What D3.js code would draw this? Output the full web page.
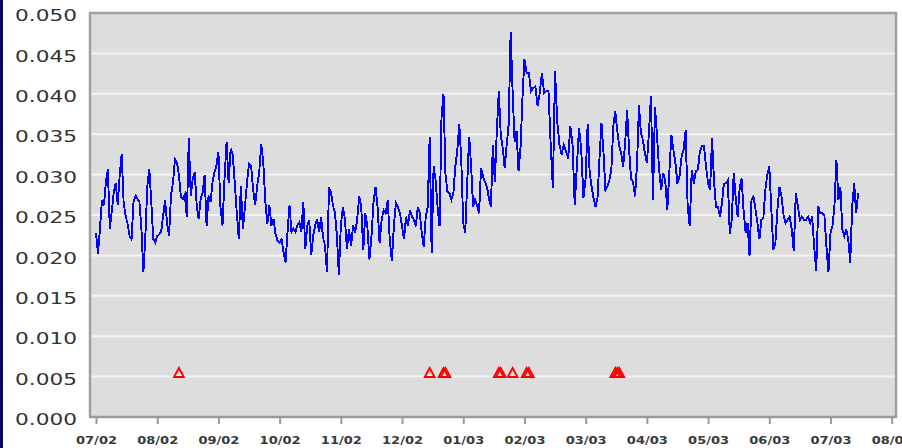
<!DOCTYPE html>
<html><head><meta charset="utf-8">
<script src="https://cdn.jsdelivr.net/npm/d3@7"></script>
<style>html,body{margin:0;padding:0;background:#fff;overflow:hidden}</style>
</head><body>
<svg id="chart" width="902" height="448"></svg>
<script>
// ---- data ----
const monthLabels = ["07/02","08/02","09/02","10/02","11/02","12/02","01/03","02/03","03/03","04/03","05/03","06/03","07/03","08/03"];
const yTickValues = [0, 0.005, 0.010, 0.015, 0.020, 0.025, 0.030, 0.035, 0.040, 0.045, 0.050];

// daily values, one array per month (first day of each array = 1st of month)
const jul2002 = [0.0228,0.0202,0.0233,0.0268,0.0262,0.0290,0.0307,0.0233,0.0255,0.0278,0.0290,0.0262,0.0299,0.0326,0.0265,0.0249,0.0239,0.0224,0.0220,0.0266,0.0274,0.0270,0.0266,0.0233,0.0179,0.0224,0.0286,0.0307,0.0266,0.0220,0.0216];
const aug2002 = [0.0224,0.0226,0.0229,0.0249,0.0268,0.0240,0.0224,0.0275,0.0290,0.0319,0.0315,0.0299,0.0272,0.0270,0.0275,0.0247,0.0345,0.0274,0.0295,0.0303,0.0262,0.0245,0.0270,0.0278,0.0299,0.0237,0.0274,0.0266,0.0290,0.0303,0.0311];
const sep2002 = [0.0328,0.0260,0.0237,0.0295,0.0340,0.0290,0.0332,0.0325,0.0290,0.0253,0.0220,0.0286,0.0233,0.0260,0.0290,0.0313,0.0311,0.0282,0.0262,0.0286,0.0303,0.0338,0.0315,0.0266,0.0239,0.0262,0.0237,0.0245,0.0226,0.0218];
const oct2002 = [0.0216,0.0220,0.0204,0.0191,0.0229,0.0262,0.0229,0.0233,0.0229,0.0237,0.0241,0.0229,0.0266,0.0208,0.0237,0.0243,0.0200,0.0224,0.0237,0.0245,0.0229,0.0247,0.0222,0.0212,0.0179,0.0284,0.0278,0.0262,0.0253,0.0225,0.0176];
const nov2002 = [0.0237,0.0260,0.0245,0.0208,0.0233,0.0212,0.0237,0.0228,0.0244,0.0273,0.0260,0.0207,0.0252,0.0236,0.0195,0.0223,0.0265,0.0285,0.0260,0.0215,0.0244,0.0256,0.0252,0.0269,0.0219,0.0193,0.0236,0.0265,0.0260,0.0252];
const dec2002 = [0.0236,0.0220,0.0248,0.0236,0.0256,0.0248,0.0244,0.0236,0.0260,0.0252,0.0228,0.0211,0.0248,0.0260,0.0347,0.0203,0.0310,0.0293,0.0260,0.0236,0.0371,0.0400,0.0300,0.0279,0.0277,0.0269,0.0277,0.0310,0.0330,0.0363,0.0318];
const jan2003 = [0.0240,0.0228,0.0289,0.0347,0.0310,0.0260,0.0269,0.0262,0.0252,0.0308,0.0298,0.0291,0.0285,0.0271,0.0260,0.0337,0.0291,0.0354,0.0403,0.0349,0.0333,0.0308,0.0337,0.0362,0.0476,0.0403,0.0341,0.0354,0.0304,0.0333,0.0395];
const feb2003 = [0.0443,0.0426,0.0426,0.0403,0.0407,0.0409,0.0385,0.0401,0.0426,0.0401,0.0403,0.0403,0.0337,0.0283,0.0428,0.0366,0.0337,0.0325,0.0337,0.0329,0.0320,0.0360,0.0337,0.0262,0.0312,0.0358,0.0329,0.0271];
const mar2003 = [0.0296,0.0362,0.0304,0.0285,0.0271,0.0260,0.0271,0.0320,0.0364,0.0329,0.0281,0.0285,0.0293,0.0306,0.0360,0.0378,0.0355,0.0335,0.0326,0.0310,0.0339,0.0380,0.0331,0.0295,0.0291,0.0273,0.0312,0.0386,0.0351,0.0343,0.0326];
const apr2003 = [0.0314,0.0351,0.0397,0.0269,0.0384,0.0347,0.0306,0.0281,0.0302,0.0293,0.0256,0.0302,0.0349,0.0331,0.0314,0.0289,0.0298,0.0322,0.0331,0.0355,0.0260,0.0236,0.0306,0.0289,0.0304,0.0306,0.0329,0.0335,0.0335,0.0310];
const may2003 = [0.0289,0.0281,0.0345,0.0293,0.0260,0.0260,0.0248,0.0264,0.0289,0.0289,0.0293,0.0227,0.0244,0.0302,0.0271,0.0248,0.0283,0.0295,0.0255,0.0228,0.0240,0.0199,0.0269,0.0273,0.0257,0.0240,0.0220,0.0244,0.0246,0.0281,0.0300];
const jun2003 = [0.0310,0.0257,0.0207,0.0216,0.0257,0.0285,0.0273,0.0250,0.0240,0.0244,0.0248,0.0232,0.0205,0.0277,0.0261,0.0244,0.0248,0.0244,0.0244,0.0248,0.0240,0.0248,0.0211,0.0181,0.0261,0.0252,0.0252,0.0250,0.0211,0.0179];
const jul2003 = [0.0228,0.0236,0.0261,0.0318,0.0269,0.0285,0.0232,0.0224,0.0232,0.0220,0.0191,0.0261,0.0289,0.0252,0.0277];

const monthlySeries = [jul2002, aug2002, sep2002, oct2002, nov2002, dec2002, jan2003, feb2003, mar2003, apr2003, may2003, jun2003, jul2003];

// event markers (red triangles)
const eventDates = ["2002-08-12","2002-12-15","2002-12-22","2002-12-23","2003-01-19","2003-01-20","2003-01-26","2003-02-02","2003-02-03","2003-03-16","2003-03-17","2003-03-18"];
const eventLevel = 0.0055;

// ---- helpers ----
const startYear = 2002, startMonth = 6; // July 2002
const daysIn = (y, m) => new Date(y, m + 1, 0).getDate();
function monthPos(y, m, day) { // fractional month index
  const idx = (y - startYear) * 12 + (m - startMonth);
  return idx + (day - 1) / daysIn(y, m);
}

const points = [];
monthlySeries.forEach((vals, i) => {
  const y = startYear + Math.floor((startMonth + i) / 12), m = (startMonth + i) % 12;
  vals.forEach((v, d) => points.push({ t: monthPos(y, m, d + 1), v }));
});
const events = eventDates.map(s => {
  const [y, m, d] = s.split("-").map(Number);
  return { t: monthPos(y, m - 1, d), v: eventLevel };
});

// ---- layout ----
const svg = d3.select("#chart");
const plot = { left: 90, right: 896, top: 13, bottom: 417 };
const x = d3.scaleLinear().domain([0, monthLabels.length - 1]).range([96, 891.7]);
const y = d3.scaleLinear().domain([0, 0.05]).range([plot.bottom, plot.top]);

svg.append("rect").attr("width", 902).attr("height", 448).attr("fill", "#fff");
svg.append("rect").attr("x", 0).attr("y", 0).attr("width", 3).attr("height", 448).attr("fill", "#0a0a5a");

svg.append("rect")
  .attr("x", plot.left).attr("y", plot.top)
  .attr("width", plot.right - plot.left).attr("height", plot.bottom - plot.top)
  .attr("fill", "#dddddd");

// gridlines
svg.append("g").selectAll("line")
  .data(yTickValues.filter(v => v > 0 && v < 0.05))
  .join("line")
  .attr("x1", plot.left).attr("x2", plot.right)
  .attr("y1", d => y(d)).attr("y2", d => y(d))
  .attr("stroke", "#f3f3f3").attr("stroke-width", 2);

// series line
svg.append("path")
  .datum(points)
  .attr("fill", "none")
  .attr("stroke", "#0000ff")
  .attr("stroke-width", 1.9)
  .attr("stroke-linejoin", "miter")
  .attr("shape-rendering", "crispEdges")
  .attr("d", d3.line().x(d => x(d.t)).y(d => y(d.v)));

// triangles
svg.append("g").selectAll("path")
  .data(events)
  .join("path")
  .attr("transform", d => `translate(${x(d.t)},${y(d.v)})`)
  .attr("d", "M0,-4.6L4.9,4.4L-4.9,4.4Z")
  .attr("fill", "none")
  .attr("stroke", "#ff0000")
  .attr("stroke-width", 1.9);

// frame
svg.append("path")
  .attr("d", `M${plot.left},${plot.bottom}V${plot.top}H${plot.right}V${plot.bottom}`)
  .attr("fill", "none").attr("stroke", "#a0a0a0").attr("stroke-width", 2.5);
svg.append("line")
  .attr("x1", plot.left - 1).attr("x2", plot.right + 1)
  .attr("y1", plot.bottom).attr("y2", plot.bottom)
  .attr("stroke", "#9a9a9a").attr("stroke-width", 2.5);

// x axis
const xAxis = svg.append("g").attr("transform", `translate(0,${plot.bottom})`)
  .call(d3.axisBottom(x).tickValues(d3.range(monthLabels.length)).tickFormat(i => monthLabels[i]).tickSize(7));
xAxis.select(".domain").remove();
xAxis.selectAll(".tick line").attr("stroke", "#9a9a9a").attr("stroke-width", 2);
xAxis.selectAll(".tick text")
  .attr("y", 27).attr("dy", 0)
  .attr("font-family", "DejaVu Sans, Verdana, sans-serif")
  .attr("font-size", 10).attr("font-weight", "bold")
  .attr("fill", "#3a3a3a")
  .attr("textLength", 41).attr("lengthAdjust", "spacingAndGlyphs");

// y axis
const yAxis = svg.append("g").attr("transform", `translate(${plot.left},0)`)
  .call(d3.axisLeft(y).tickValues(yTickValues).tickFormat(d3.format(".3f")).tickSize(0).tickPadding(13));
yAxis.select(".domain").remove();
yAxis.selectAll(".tick text")
  .attr("y", 7.7).attr("dy", 0)
  .attr("font-family", "DejaVu Sans, Verdana, sans-serif")
  .attr("font-size", 15)
  .attr("fill", "#333")
  .attr("textLength", 62).attr("lengthAdjust", "spacingAndGlyphs");
</script>
</body></html>
